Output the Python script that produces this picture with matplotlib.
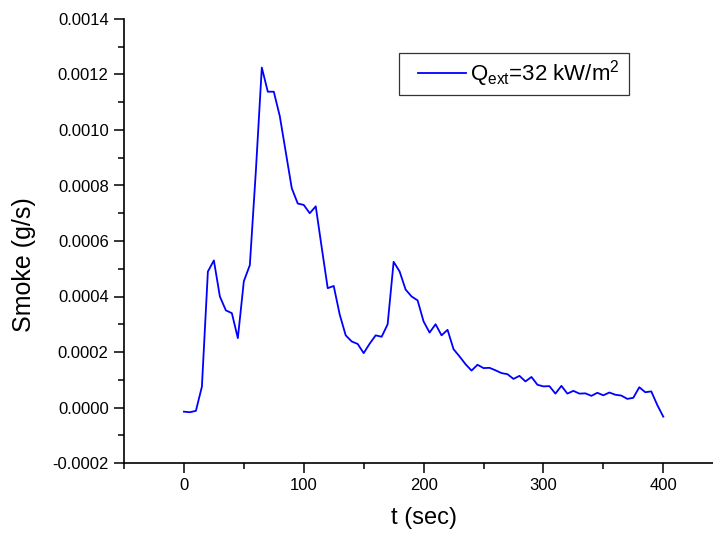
import numpy as np
import matplotlib
matplotlib.use("Agg")
import matplotlib.pyplot as plt
from matplotlib.patches import Rectangle
from matplotlib.ticker import MultipleLocator, FormatStrFormatter

plt.rcParams['font.family'] = ['Liberation Sans', 'DejaVu Sans']
plt.rcParams['mathtext.default'] = 'regular'

# smoke production rate, sampled every 5 s
time_s = np.arange(0, 405, 5)
smoke_gs = [
    -0.000015, -0.000017, -0.000012, 0.000075, 0.00049, 0.00053, 0.00040, 0.00035,
    0.00034, 0.00025, 0.000455, 0.000513, 0.00085, 0.001225, 0.001138, 0.001138,
    0.00105, 0.00092, 0.00079, 0.000735, 0.00073, 0.00070, 0.000725, 0.000576,
    0.00043, 0.000438, 0.000335, 0.00026, 0.000238, 0.000229, 0.000196, 0.00023,
    0.00026, 0.000255, 0.00030, 0.000525, 0.00049, 0.000425, 0.000400, 0.000386,
    0.00031, 0.00027, 0.00030, 0.00026, 0.00028, 0.00021, 0.000184, 0.000156,
    0.000133, 0.000154, 0.000142, 0.000143, 0.000134, 0.000124, 0.00012, 0.000103,
    0.000114, 0.000094, 0.00011, 0.000082, 0.000076, 0.000077, 0.00005, 0.000078,
    0.00005, 0.00006, 0.00005, 0.000051, 0.000042, 0.000053, 0.000044, 0.000054,
    0.000046, 0.000043, 0.000031, 0.000035, 0.000073, 0.000055, 0.000058, 0.000009,
    -0.000033,
]
series_label = r'Q$_{ext}$=32 kW/m$^{2}$'

fig = plt.figure(figsize=(7.13, 5.39), dpi=100)
ax = fig.add_axes([124 / 713, 1 - 463 / 539, 1 - 124 / 713, (463 - 19) / 539])

ax.plot(time_s, smoke_gs, color='#0000ff', lw=1.3, label=series_label)

ax.set_xlim(-50, 441.5)
ax.set_ylim(-0.0002, 0.0014)

ax.xaxis.set_major_locator(MultipleLocator(100))
ax.xaxis.set_minor_locator(MultipleLocator(50))
ax.yaxis.set_major_locator(MultipleLocator(0.0002))
ax.yaxis.set_minor_locator(MultipleLocator(0.0001))
ax.yaxis.set_major_formatter(FormatStrFormatter('%.4f'))

ax.spines['top'].set_visible(False)
ax.spines['right'].set_visible(False)
for s in ('left', 'bottom'):
    ax.spines[s].set_linewidth(1.2)

ax.tick_params(which='major', direction='out', length=7, width=1.1,
               labelsize=12, pad=4)
ax.tick_params(which='minor', direction='out', length=4.3, width=1.1)

ax.set_xlabel('t (sec)', fontsize=17)
ax.set_ylabel('Smoke (g/s)', fontsize=18)
ax.xaxis.set_label_coords(0.509, -0.100)
ax.yaxis.set_label_coords(-0.149, 0.446)

# legend: entry without its own frame, boxed by a plain rectangle
leg = ax.legend(loc='center left', bbox_to_anchor=(0.4992, 0.877),
                frameon=False, fontsize=16, handlelength=2.15,
                borderpad=0, handletextpad=0.18, borderaxespad=0)
ax.add_patch(Rectangle((0.4669, 0.8288), 0.3905, 0.0946, transform=ax.transAxes,
                       fill=False, edgecolor='#333333', linewidth=0.9, zorder=5))

fig.savefig('out.png', dpi=100)
